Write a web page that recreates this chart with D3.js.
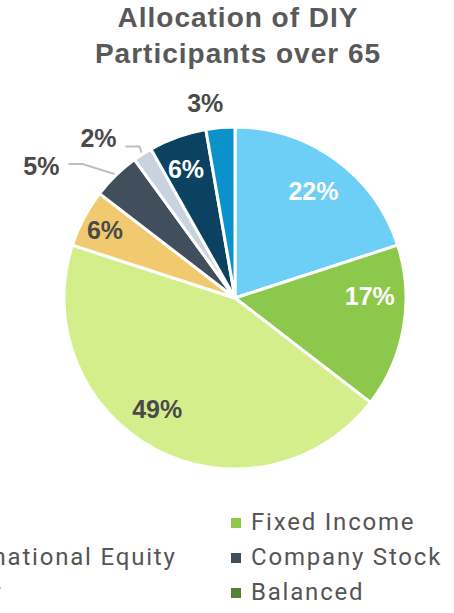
<!DOCTYPE html>
<html>
<head>
<meta charset="utf-8">
<script src="https://cdn.jsdelivr.net/npm/d3@7"></script>
<style>
  body { margin: 0; background: #fff; }
  svg { display: block; }
</style>
</head>
<body>
<svg width="454" height="613"></svg>
<script>
"use strict";

// chart data
var titleLines = ["Allocation of DIY", "Participants over 65"];
var categories = ["Stable Value", "Fixed Income", "Target Date", "Large Cap Equity",
                  "Company Stock", "Mid Cap Equity", "Small Cap Equity", "Cash"];
var values = [22, 17, 49, 6, 5, 2, 6, 3];
var colors = ["#6ECFF6", "#8CC84B", "#D5EE8C", "#F1CA6F", "#414E5C", "#C8D3DF", "#0C4261", "#0B92CA"];

// legend (the left part is cut off in the original)
var legendNames = ["International Equity", "Other", "Fixed Income", "Company Stock", "Balanced"];
var legendColors = ["#1F6E9C", "#9AA5B1", "#8CC84B", "#414E5C", "#548235"];

var svg = d3.select("svg"),
    width = +svg.attr("width"),
    height = +svg.attr("height");

var cx = 235, cy = 298, radius = 171;
var darkText = "#4a4a4a";

// label nudges, excel style placement
var labelLayout = [
  { dx: -2, dy: 4, fill: "#fff" },
  { dx: 0, dy: -25, fill: "#fff" },
  { dx: -14, dy: -10, fill: darkText },
  { dx: -9, dy: -4, fill: darkText },
  { outside: true, dx: -73, dy: -8, leaderY: -2, fill: darkText },
  { outside: true, dx: -43, dy: -14, leaderY: 8, fill: darkText },
  { dx: -3, dy: 0, fill: "#fff" },
  { outside: true, dx: -15, dy: -22, fill: darkText }
];

// title
svg.append("g").attr("class", "title").selectAll("text")
  .data(titleLines).enter().append("text")
  .attr("x", 238)
  .attr("y", function (d, i) { return 27 + i * 36; })
  .attr("text-anchor", "middle")
  .attr("font-family", "'Liberation Sans', Arial, sans-serif")
  .attr("font-weight", "bold")
  .attr("font-size", 28)
  .attr("letter-spacing", 1)
  .attr("fill", "#595959")
  .text(function (d) { return d; });

var pie = d3.pie().sort(null).value(function (d) { return d; });
var arcs = pie(values);

var arc = d3.arc().innerRadius(0).outerRadius(radius);
var labelArc = d3.arc().innerRadius(radius * 0.8).outerRadius(radius * 0.8);
var edgeArc = d3.arc().innerRadius(radius + 2).outerRadius(radius + 2);

var g = svg.append("g").attr("transform", "translate(" + cx + "," + cy + ")");

g.append("g").attr("class", "slices").selectAll("path")
  .data(arcs).enter().append("path")
  .attr("d", arc)
  .attr("fill", function (d, i) { return colors[i]; })
  .attr("stroke", "#fff")
  .attr("stroke-width", 3)
  .attr("stroke-linejoin", "round")
  .append("title").text(function (d, i) { return categories[i] + ": " + d.value + "%"; });

// leader lines for the small outside labels
var labelFont = "'Liberation Sans', Arial, sans-serif";
arcs.forEach(function (d, i) {
  var lay = labelLayout[i];
  if (!lay.outside) return;
  var p = edgeArc.centroid(d);
  var lx = p[0] + lay.dx, ly = p[1] + lay.dy;
  if (lay.leaderY === undefined) return;
  var endX = lx + 18 + 9, lineY = ly + lay.leaderY;
  g.append("polyline")
    .attr("points", [[p[0], p[1]], [endX + 14, lineY], [endX, lineY]].map(function (q) { return q.join(","); }).join(" "))
    .attr("fill", "none")
    .attr("stroke", "#BFBFBF")
    .attr("stroke-width", 2);
});

g.append("g").attr("class", "labels").selectAll("text")
  .data(arcs).enter().append("text")
  .attr("transform", function (d, i) {
    var lay = labelLayout[i];
    var p = lay.outside ? edgeArc.centroid(d) : labelArc.centroid(d);
    return "translate(" + (p[0] + lay.dx) + "," + (p[1] + lay.dy) + ")";
  })
  .attr("dy", "0.35em")
  .attr("text-anchor", "middle")
  .attr("font-family", labelFont)
  .attr("font-weight", "bold")
  .attr("font-size", 25)
  .attr("fill", function (d, i) { return labelLayout[i].fill; })
  .text(function (d) { return d.value + "%"; });

// legend, filled column by column, first cell empty
var legendColX = [-85, 231];
var legend = svg.append("g").attr("class", "legend").selectAll("g")
  .data(legendNames).enter().append("g")
  .attr("transform", function (d, i) {
    var slot = i + 1;
    var col = Math.floor(slot / 3), row = slot % 3;
    return "translate(" + legendColX[col] + "," + (530 + row * 35) + ")";
  });

legend.append("rect")
  .attr("x", 0).attr("y", -12)
  .attr("width", 10).attr("height", 10)
  .attr("fill", function (d, i) { return legendColors[i]; });

legend.append("text")
  .attr("x", 20)
  .attr("font-family", "Roboto, 'Helvetica Neue', Arial, sans-serif")
  .attr("font-size", 24)
  .attr("letter-spacing", 1.8)
  .attr("fill", "#555")
  .text(function (d) { return d; });
</script>
</body>
</html>
